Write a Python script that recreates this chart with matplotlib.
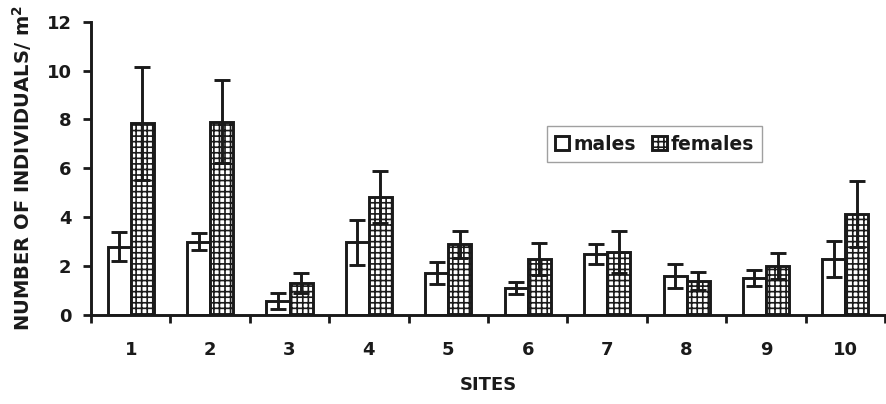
import numpy as np
import matplotlib
matplotlib.use("Agg")
import matplotlib.pyplot as plt

plt.rcParams['font.family'] = ['DejaVu Sans']
plt.rcParams['font.weight'] = 'bold'
plt.rcParams['mathtext.fontset'] = 'custom'
plt.rcParams['mathtext.bf'] = 'DejaVu Sans:bold'
plt.rcParams['mathtext.rm'] = 'DejaVu Sans:bold'
plt.rcParams['hatch.linewidth'] = 1.2

# density of males and females per site (mean and error)
sites = ['1', '2', '3', '4', '5', '6', '7', '8', '9', '10']
males = [2.8, 3.0, 0.57, 2.97, 1.71, 1.09, 2.5, 1.6, 1.5, 2.29]
males_err = [0.58, 0.35, 0.33, 0.93, 0.45, 0.25, 0.4, 0.5, 0.33, 0.75]
females = [7.84, 7.91, 1.3, 4.82, 2.9, 2.29, 2.59, 1.39, 2.0, 4.12]
females_err = [2.3, 1.7, 0.4, 1.07, 0.55, 0.67, 0.86, 0.36, 0.54, 1.35]

x = np.arange(1, len(sites) + 1)
w = 0.29
ink = '#1a1a1a'

fig = plt.figure(figsize=(8.86, 4.04), dpi=100)
ax = fig.add_axes([0.1027, 0.2203, 0.8963, 0.726])

ax.bar(x - w / 2, males, w, color='white', edgecolor=ink,
       linewidth=2.1, label='males', zorder=2)
ax.bar(x + w / 2, females, w, color='white', edgecolor=ink,
       linewidth=2.1, hatch='+++', label='females', zorder=2)
ax.errorbar(x - w / 2, males, yerr=males_err, fmt='none', ecolor=ink,
            elinewidth=2.1, capsize=5.5, capthick=2.1, zorder=3)
ax.errorbar(x + w / 2, females, yerr=females_err, fmt='none', ecolor=ink,
            elinewidth=2.1, capsize=5.5, capthick=2.1, zorder=3)

ax.set_xlim(0.5, len(sites) + 0.5)
ax.set_ylim(0, 12)
ax.set_yticks(np.arange(0, 13, 2))
ax.set_xticks(np.arange(0.5, len(sites) + 1, 1))
ax.set_xticklabels([])
ax.set_xticks(x, minor=True)
ax.set_xticklabels(sites, minor=True)
ax.tick_params(axis='x', which='minor', length=0, pad=19, labelsize=13,
               colors=ink)
ax.tick_params(axis='x', which='major', length=6, width=2.0, direction='out',
               color=ink)
ax.tick_params(axis='y', length=6, width=2.0, pad=8, labelsize=13,
               colors=ink)

for s in ['top', 'right']:
    ax.spines[s].set_visible(False)
for s in ['left', 'bottom']:
    ax.spines[s].set_linewidth(2.1)
    ax.spines[s].set_color(ink)

ax.set_xlabel('SITES', fontsize=13, fontweight='bold', labelpad=12,
              color=ink)
ax.set_ylabel(r'NUMBER OF INDIVIDUALS/ m$^{\mathbf{2}}$', fontsize=14,
              fontweight='bold', labelpad=9, color=ink)

leg = ax.legend(loc='upper left', bbox_to_anchor=(0.574, 0.644), ncol=2,
                frameon=True, fancybox=False, edgecolor='#888888',
                handlelength=0.75, handleheight=0.75, handletextpad=0.2,
                columnspacing=0.9, borderaxespad=0, borderpad=0.45,
                prop={'size': 13.5, 'weight': 'bold'})
leg.get_frame().set_linewidth(1.0)
for t in leg.get_texts():
    t.set_color(ink)

fig.savefig('out.png', dpi=100)
